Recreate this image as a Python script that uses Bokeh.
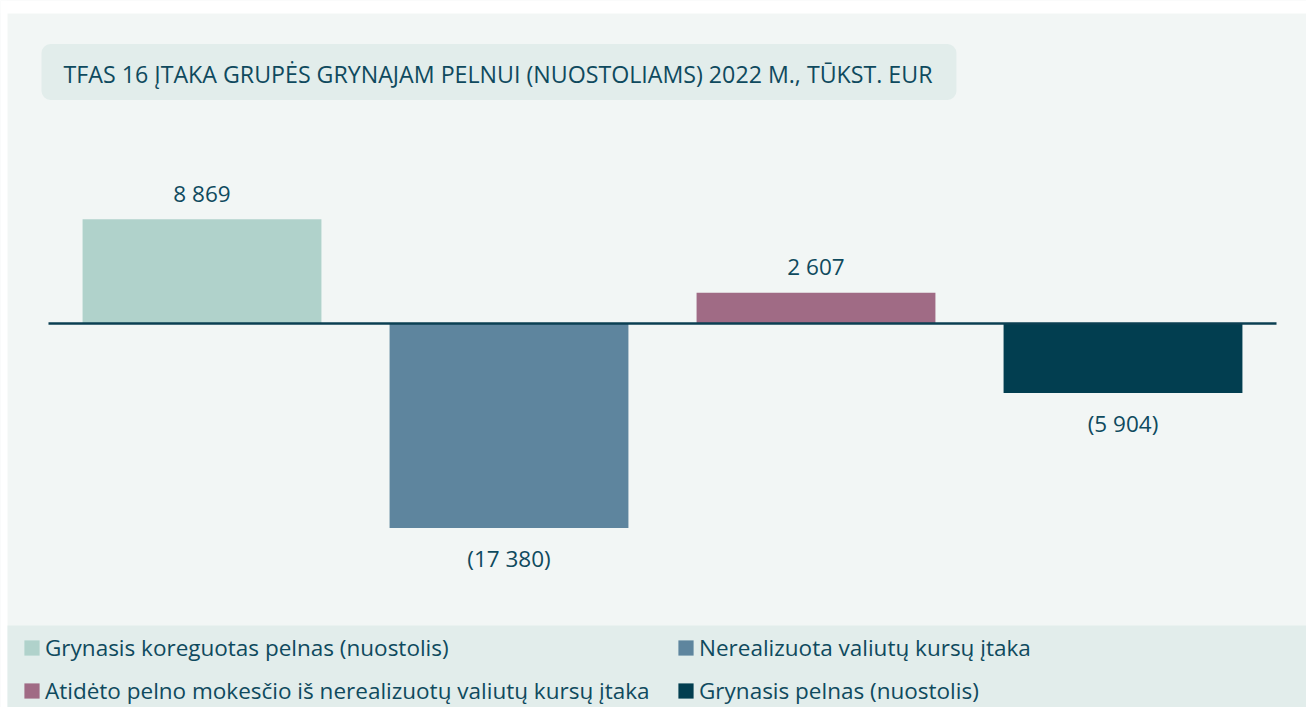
from bokeh.plotting import figure
from bokeh.models import ColumnDataSource, Range1d, Legend, LegendItem, Label, BoxAnnotation
from bokeh.core.properties import value
from bokeh.embed import file_html
from bokeh.resources import INLINE

# ---- data ----
categories = [
    "Grynasis koreguotas pelnas (nuostolis)",
    "Nerealizuota valiutų kursų įtaka",
    "Atidėto pelno mokesčio iš nerealizuotų valiutų kursų įtaka",
    "Grynasis pelnas (nuostolis)",
]
values = [8869, -17380, 2607, -5904]
colors = ["#b0d2cb", "#5e859e", "#a06b85", "#023e50"]
title_text = "TFAS 16 ĮTAKA GRUPĖS GRYNAJAM PELNUI (NUOSTOLIAMS) 2022 M., TŪKST. EUR"


def fmt(v):
    s = f"{abs(v):,}".replace(",", " ")
    return f"({s})" if v < 0 else s


labels = [fmt(v) for v in values]

TEXT = "#0f4a5e"
FONT = "Open Sans"
BG = "#f2f6f5"
BOX = "#e2edeb"

W, H = 1306, 707
px_per_cat = 307.0
units_per_px = 85.0
zero_px = 323.0
first_center_px = 201.5

x_start = -first_center_px / px_per_cat
x_end = (W - first_center_px) / px_per_cat
y_end = zero_px * units_per_px
y_start = -(H - zero_px) * units_per_px

p = figure(width=W, height=H,
           x_range=Range1d(x_start, x_end), y_range=Range1d(y_start, y_end),
           output_backend="svg", toolbar_location=None,
           x_axis_location=None, y_axis_location=None,
           min_border=0, min_border_left=0, min_border_right=0,
           min_border_top=0, min_border_bottom=0,
           background_fill_color=BG, border_fill_color="white",
           outline_line_color=None)
p.grid.visible = False

# white margins and legend band
p.add_layout(BoxAnnotation(bottom=y_end - 13 * units_per_px, fill_color="white",
                           fill_alpha=1, line_color=None, level="underlay"))
p.add_layout(BoxAnnotation(right=x_start + 7 / px_per_cat, fill_color="white",
                           fill_alpha=1, line_color=None, level="underlay"))
p.add_layout(BoxAnnotation(top=y_start + (H - 625) * units_per_px,
                           left=x_start + 7 / px_per_cat, fill_color=BOX,
                           fill_alpha=1, line_color=None, level="underlay"))

n = len(categories)
src = ColumnDataSource(dict(
    x=list(range(n)), top=values, color=colors, cat=categories, label=labels,
    off=[-26 if v >= 0 else 31 for v in values],
))

bars = p.vbar(x="x", top="top", bottom=0, width=0.778, fill_color="color",
              line_color=None, source=src)

# zero line across the category span
p.line(x=[-0.5, n - 0.5], y=[0, 0], line_color="#0b3f52", line_width=2.5)

p.text(x="x", y="top", text="label", y_offset="off", text_align="center",
       text_baseline="middle", text_font=value(FONT), text_font_size="22.5px",
       text_color=TEXT, source=src)

# title box (padding order: left, right, top, bottom)
p.add_layout(Label(x=41, y=H - 71.5, x_units="screen", y_units="screen",
                   text=title_text, text_align="left", text_baseline="middle",
                   text_font=FONT, text_font_size="23.2px", text_color=TEXT,
                   background_fill_color=BOX, border_radius=9,
                   padding=(22, 24, 14, 10)))

# legends (two columns)
items = [LegendItem(label=categories[i], renderers=[bars], index=i) for i in range(n)]


def make_legend(its, x):
    return Legend(items=its, location=(x, 1), orientation="vertical",
                  background_fill_alpha=0, border_line_color=None,
                  padding=0, margin=0, spacing=12,
                  glyph_width=19, glyph_height=19, label_standoff=4,
                  label_text_font=FONT, label_text_font_size="22.5px",
                  label_text_color=TEXT)


p.add_layout(make_legend([items[0], items[2]], 22))
p.add_layout(make_legend([items[1], items[3]], 676))

open("out.html", "w").write(file_html(p, INLINE))
